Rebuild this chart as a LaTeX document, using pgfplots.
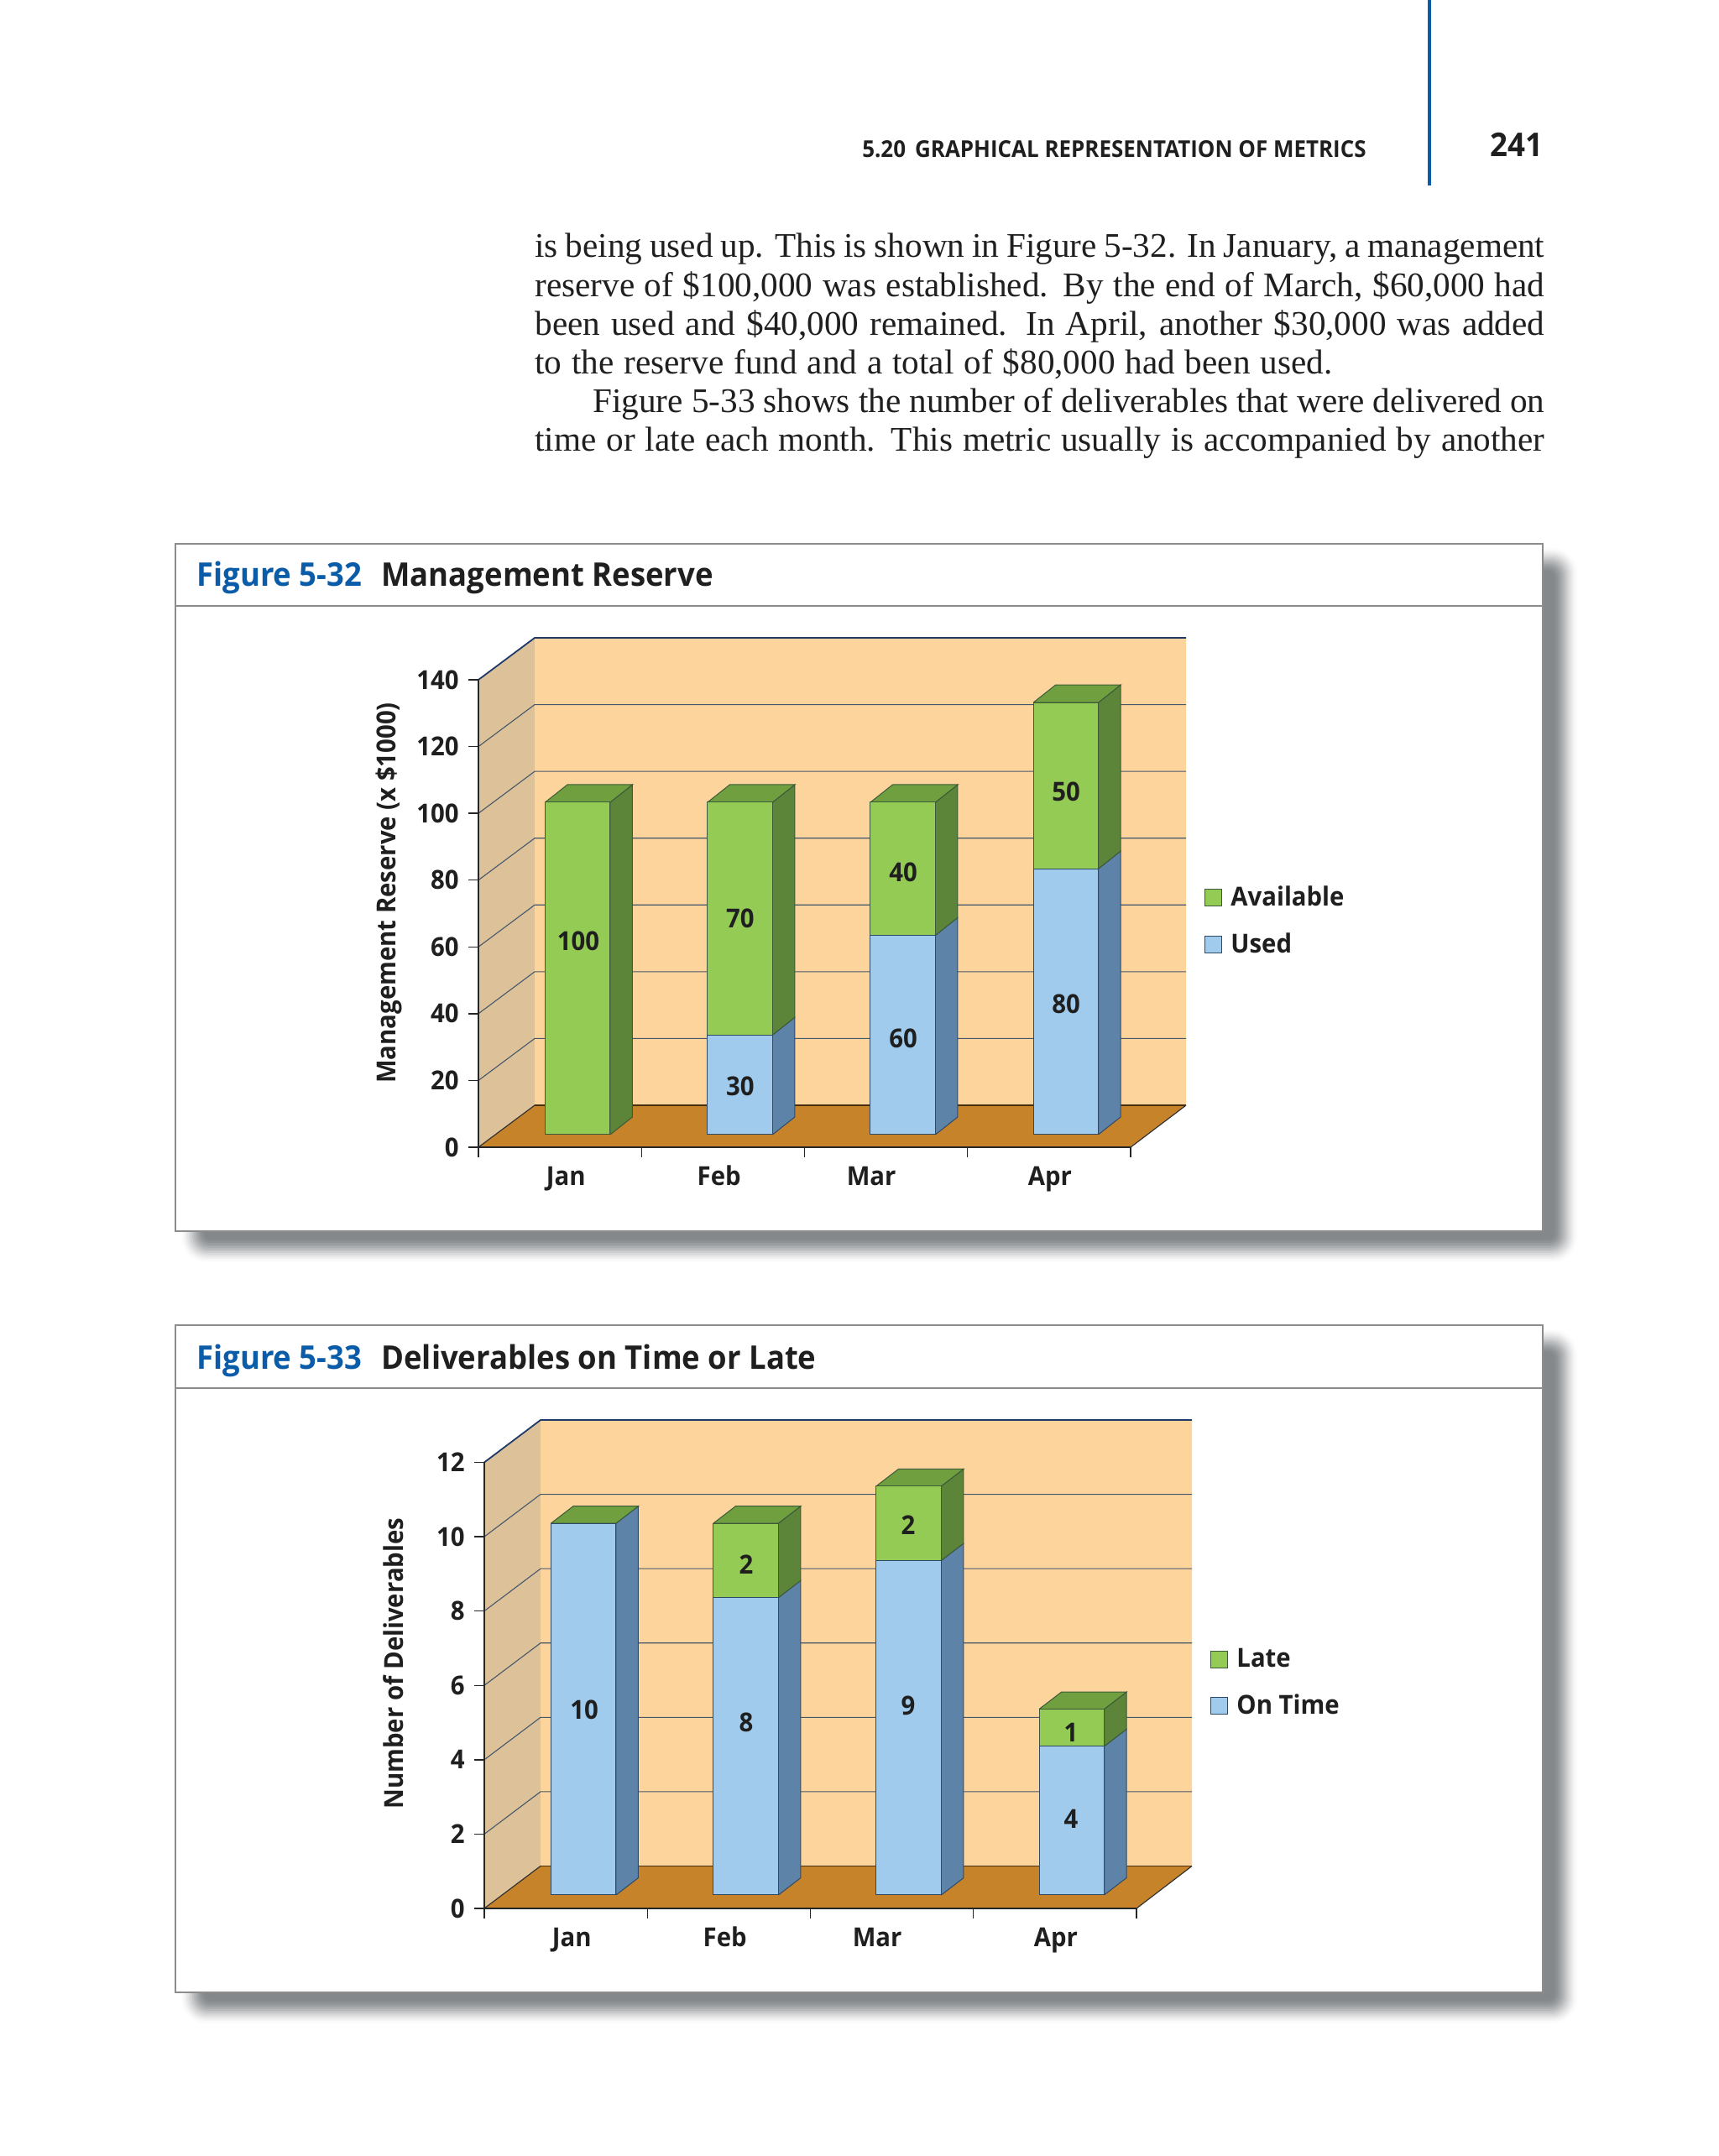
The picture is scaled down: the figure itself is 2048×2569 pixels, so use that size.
\documentclass[border=0pt]{standalone}
\usepackage{fontspec}
\usepackage{pgfplots}
\usepackage{pgfplotstable}
\pgfplotsset{compat=1.18}
\setmainfont[FakeStretch=0.94]{Open Sans}
\newfontfamily\bookfont{Liberation Serif}

\definecolor{figblue}{HTML}{0B5CA8}
\definecolor{ink}{HTML}{1F1F1F}
\definecolor{panelline}{HTML}{8C8C8C}
\definecolor{shadowgray}{HTML}{85888B}
\definecolor{wallback}{HTML}{FDD49C}
\definecolor{wallleft}{HTML}{DDC199}
\definecolor{floorc}{HTML}{C78329}
\definecolor{gridc}{HTML}{45586B}
\definecolor{topline}{HTML}{1F3A68}
\definecolor{gfront}{HTML}{94CB55}
\definecolor{gside}{HTML}{5C8539}
\definecolor{gtop}{HTML}{6F9F3F}
\definecolor{bfront}{HTML}{A0CBEC}
\definecolor{bside}{HTML}{5D83A8}
\definecolor{gedge}{HTML}{3C5A3A}
\definecolor{bedge}{HTML}{2F4A66}

\newcommand{\chartfont}{\fontsize{15.6}{18}\selectfont\bfseries\color{ink}}

% values: x is the left-to-right position of the bar centre, tick spacing = 1
\pgfplotstableread{
x used avail
0.6085 0 100
1.6045 30 70
2.6035 60 40
3.6025 80 50
}\reserve
\pgfplotstableread{
x ontime late
0.6085 10 0
1.6045 8 2
2.6035 9 2
3.6025 4 1
}\deliv
% where the value labels stand
\pgfplotstableread{
x y lab
0.6126 58.0 100
1.606 64.8 70
1.606 14.6 30
2.605 78.6 40
2.605 28.9 60
3.604 102.8 50
3.604 39.2 80
}\reservelabels
\pgfplotstableread{
x y lab
0.6126 4.99 10
1.606 4.65 8
1.606 8.89 2
2.60 9.95 2
2.60 5.1 9
3.598 4.38 1
3.598 2.05 4
}\delivlabels

% side and top faces of a bar, left edge of the front face given
\newcommand{\barside}[5]{%
  \pgfmathsetmacro\xa{#1+\barw}\pgfmathsetmacro\xb{\xa+\depx}%
  \pgfmathsetmacro\yb{#2+\depy}\pgfmathsetmacro\yd{#3+\depy}%
  \addplot[fill=#4,draw=#5,line width=0.5pt] coordinates {(\xa,#2)(\xb,\yb)(\xb,\yd)(\xa,#3)(\xa,#2)};}
\newcommand{\bartop}[2]{%
  \pgfmathsetmacro\xa{#1+\barw}\pgfmathsetmacro\xb{\xa+\depx}\pgfmathsetmacro\xc{#1+\depx}%
  \pgfmathsetmacro\yb{#2+\depy}%
  \addplot[fill=gtop,draw=gedge,line width=0.5pt] coordinates {(#1,#2)(\xa,#2)(\xb,\yb)(\xc,\yb)(#1,#2)};}
\newcommand{\gridat}[1]{%
  \pgfmathsetmacro\ya{#1+\backy}%
  \addplot[draw=gridc,line width=0.55pt] coordinates {(0,#1)(0.345,\ya)(4.34,\ya)};}
% floor and walls
\newcommand{\shell}[1]{%
  \pgfmathsetmacro\yt{#1+\backy}%
  \addplot[fill=wallleft,draw=none] coordinates {(0,0)(0.345,\backy)(0.345,\yt)(0,#1)(0,0)};
  \addplot[fill=wallback,draw=none] coordinates {(0.345,\backy)(4.34,\backy)(4.34,\yt)(0.345,\yt)(0.345,\backy)};
  \addplot[fill=floorc,draw=none] coordinates {(0,0)(4,0)(4.34,\backy)(0.345,\backy)(0,0)};
  \addplot[draw=black!65!floorc,line width=0.6pt] coordinates {(0.345,\backy)(4.34,\backy)};
  \addplot[draw=black!80,line width=0.6pt] coordinates {(0,0)(0.345,\backy)};
  \addplot[draw=black!80,line width=0.6pt] coordinates {(4,0)(4.34,\backy)};
  \addplot[draw=topline,line width=0.9pt] coordinates {(0,#1)(0.345,\yt)(4.34,\yt)};}

\pgfplotsset{
  frameaxis/.style={
    scale only axis,width=388.5pt,xmin=0,xmax=4,clip=false,axis on top,
    axis x line*=bottom,axis y line*=left,
    axis line style={draw=black!85,line width=0.8pt},
    tick style={draw=black!85,line width=0.7pt},
    tick align=outside,major tick length=6pt,
    /pgf/number format/assume math mode=true,
    xtick={0,1,2,3,4},xticklabels={},
    extra x ticks={0.537,1.476,2.41,3.505},extra x tick labels={Jan,Feb,Mar,Apr},
    extra x tick style={major tick length=0pt,tick label style={anchor=base,yshift=-23pt}},
    tick label style={font=\chartfont},
    y tick label style={inner sep=0pt,xshift=-5.5pt,anchor=east},
  },
  plainaxis/.style={
    scale only axis,width=388.5pt,xmin=0,xmax=4,ymin=0,clip=false,hide axis,
  },
  baraxis/.style={
    plainaxis,
    ybar stacked,bar width=38.75pt,
    reverse legend,
    legend style={draw=none,fill=none,inner sep=0pt,font=\chartfont,anchor=north west,
      row sep=14.7pt,nodes={inner sep=0pt,anchor=west}},
    legend cell align=left,
    legend image code/.code={\draw[##1] (0pt,-5pt) rectangle (10pt,5pt);\path (15pt,0pt);},
  },
  labelplot/.style={
    draw=none,mark=none,point meta=explicit symbolic,nodes near coords,
    every node near coord/.style={font=\chartfont,inner sep=0pt,anchor=center},
  },
  usedbar/.style={fill=bfront,draw=bedge,line width=0.5pt},
  availbar/.style={fill=gfront,draw=gedge,line width=0.5pt},
}

\newcommand{\panel}[5]{% left top right bottom title-rule
  \foreach \i in {0,...,16}{
    \pgfmathsetmacro\t{\i/16}
    \pgfmathsetmacro\c{100*\t*\t*(3-2*\t)}
    \pgfmathsetmacro\r{16-\i*0.8}
    \fill[color=shadowgray!\c!white,rounded corners=\r pt]
      (#1+4+2*\i,2569-#2-2-2*\i) rectangle (#3+44-2*\i,2569-#4-40+2*\i);
  }
  \filldraw[fill=white,draw=panelline,line width=1pt] (#1,2569-#2) rectangle (#3,2569-#4);
  \draw[panelline,line width=1pt] (#1,2569-#5) -- (#3,2569-#5);
}

\begin{document}
\begin{tikzpicture}[x=0.5pt,y=0.5pt]
\useasboundingbox (0,0) rectangle (2048,2569);
\fill[white] (0,0) rectangle (2048,2569);

% running head
\fill[figblue] (1701,2569) rectangle (1705,2569-221);
\node[anchor=base east,inner sep=0pt,text=ink,font=\fontsize{13.8}{16}\selectfont\bfseries] at (1628,2569-188) {5.20\hspace{0.4em}GRAPHICAL REPRESENTATION OF METRICS};
\node[anchor=base east,inner sep=0pt,text=ink,font=\fontsize{19.5}{20}\selectfont\bfseries] at (1839,2569-187) {241};

% body text
\begin{scope}[every node/.style={anchor=base west,inner sep=0pt,text=ink,font=\bookfont\fontsize{20.6}{23}\selectfont}]
\node at (637,2569-307) {\makebox[601.5pt][s]{is being used up. This is shown in Figure 5-32. In January, a management}};
\node at (637,2569-354) {\makebox[601.5pt][s]{reserve of \$100,000 was established. By the end of March, \$60,000 had}};
\node at (637,2569-400) {\makebox[601.5pt][s]{been used and \$40,000 remained. In April, another \$30,000 was added}};
\node at (637,2569-446) {\makebox[475pt][s]{to the reserve fund and a total of \$80,000 had been used.}};
\node at (706,2569-492) {\makebox[567pt][s]{Figure 5-33 shows the number of deliverables that were delivered on}};
\node at (637,2569-538) {\makebox[601.5pt][s]{time or late each month. This metric usually is accompanied by another}};
\end{scope}

% Figure 5-32
\panel{209}{648}{1838}{1467}{722}
\node[anchor=base west,inner sep=0pt,font=\fontsize{19.4}{22}\selectfont\bfseries] at (234,2569-699)
  {\textcolor{figblue}{Figure 5-32}\hspace{0.6em}\textcolor{ink}{Management Reserve}};

\def\barw{0.399}\def\depx{0.1364}\def\depy{5.3}\def\backy{12.56}
\begin{axis}[frameaxis,at={(285pt,601pt)},height=278.5pt,ymin=0,ymax=140,
  ytick={0,20,...,140},ylabel={Management Reserve (x \$1000)},
  every axis y label/.style={at={(axis description cs:-0.1377,0.544)},rotate=90,anchor=center,font=\chartfont}]
  \shell{140}
  \gridat{20}\gridat{40}\gridat{60}\gridat{80}\gridat{100}\gridat{120}
\end{axis}
\begin{axis}[plainaxis,at={(285pt,608.5pt)},height=277.2pt,ymax=140]
  \barside{0.409}{0}{100}{gside}{gedge}
  \barside{1.405}{0}{30}{bside}{bedge}
  \barside{1.405}{30}{100}{gside}{gedge}
  \barside{2.404}{0}{60}{bside}{bedge}
  \barside{2.404}{60}{100}{gside}{gedge}
  \barside{3.403}{0}{80}{bside}{bedge}
  \barside{3.403}{80}{130}{gside}{gedge}
  \bartop{0.409}{100}\bartop{1.405}{100}\bartop{2.404}{100}\bartop{3.403}{130}
\end{axis}
\begin{axis}[baraxis,at={(285pt,608.5pt)},height=277.2pt,ymax=140,
  legend style={at={(axis description cs:1.1133,0.535)}}]
  \addplot[usedbar] table[x=x,y=used] {\reserve};
  \addplot[availbar] table[x=x,y=avail] {\reserve};
  \legend{Used,Available}
\end{axis}
\begin{axis}[plainaxis,at={(285pt,608.5pt)},height=278.5pt,ymax=140]
  \addplot[labelplot] table[x=x,y=y,meta=lab] {\reservelabels};
\end{axis}

% Figure 5-33
\panel{209}{1579}{1838}{2374}{1654}
\node[anchor=base west,inner sep=0pt,font=\fontsize{19.4}{22}\selectfont\bfseries] at (234,2569-1632)
  {\textcolor{figblue}{Figure 5-33}\hspace{0.6em}\textcolor{ink}{Deliverables on Time or Late}};

\def\barw{0.399}\def\depx{0.1364}\def\depy{0.46}\def\backy{1.14}
\begin{axis}[frameaxis,at={(288.5pt,147.5pt)},height=265.75pt,ymin=0,ymax=12,
  ytick={0,2,...,12},ylabel={Number of Deliverables},
  every axis y label/.style={at={(axis description cs:-0.139,0.549)},rotate=90,anchor=center,font=\chartfont}]
  \shell{12}
  \gridat{2}\gridat{4}\gridat{6}\gridat{8}\gridat{10}
\end{axis}
\begin{axis}[plainaxis,at={(288.5pt,155.5pt)},height=265.75pt,ymax=12]
  \barside{0.409}{0}{10}{bside}{bedge}
  \barside{1.405}{0}{8}{bside}{bedge}
  \barside{1.405}{8}{10}{gside}{gedge}
  \barside{2.404}{0}{9}{bside}{bedge}
  \barside{2.404}{9}{11}{gside}{gedge}
  \barside{3.403}{0}{4}{bside}{bedge}
  \barside{3.403}{4}{5}{gside}{gedge}
  \bartop{0.409}{10}\bartop{1.405}{10}\bartop{2.404}{11}\bartop{3.403}{5}
\end{axis}
\begin{axis}[baraxis,at={(288.5pt,155.5pt)},height=265.75pt,ymax=12,
  legend style={at={(axis description cs:1.1133,0.553)}}]
  \addplot[usedbar] table[x=x,y=ontime] {\deliv};
  \addplot[availbar] table[x=x,y=late] {\deliv};
  \legend{On Time,Late}
\end{axis}
\begin{axis}[plainaxis,at={(288.5pt,155.5pt)},height=265.75pt,ymax=12]
  \addplot[labelplot] table[x=x,y=y,meta=lab] {\delivlabels};
\end{axis}
\end{tikzpicture}
\end{document}
